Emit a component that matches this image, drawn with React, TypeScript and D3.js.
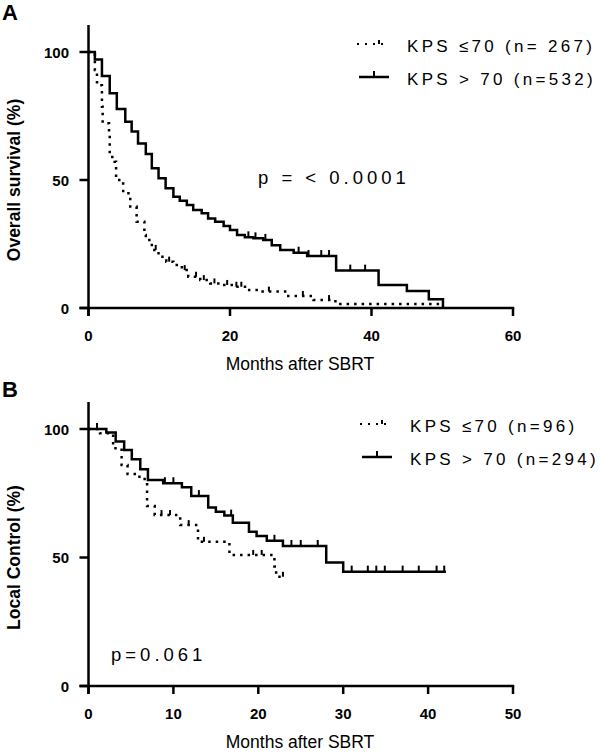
import React, { useEffect, useRef } from "react";
import * as d3 from "d3";

type Step = [number, number]; // [months, percent]

// ---- Panel A: overall survival ----
const osLowSteps: Step[] = [
  [0, 100], [0.9, 93], [1.2, 87], [1.9, 78.6], [2.0, 72.2], [2.9, 68.9], [3.0, 59],
  [3.7, 57.1], [3.9, 50], [4.9, 44.8], [5.9, 39.6], [6.8, 33.7], [7.9, 28.5],
  [8.1, 26.6], [8.95, 22.7], [9.9, 20.0], [11.0, 18.1], [12.0, 16.8], [13.2, 14.8],
  [14.1, 12.2], [15.8, 10.9], [17.2, 9.6], [18.8, 9.0], [20.5, 8.3], [22.4, 7.0],
  [24.2, 6.4], [28.0, 4.7], [31.8, 3.1], [34.9, 1.6],
];
const osLowEnd = 49.7;
const osLowCensor = [9.5, 11.4, 13.6, 15.2, 16.3, 17.8, 19.6, 20.9, 21.6, 25.5, 30.3, 34.0];

const osHighSteps: Step[] = [
  [0, 100], [0.9, 97.1], [1.9, 90.6], [3.0, 83.9], [4.0, 77.7], [5.2, 72.8], [6.1, 68.9],
  [7.0, 64.3], [8.1, 60.2], [8.95, 54.6], [9.9, 50.7], [10.9, 46.8], [12.0, 43.5],
  [12.9, 41.9], [13.9, 40.2], [14.8, 38.3], [16.0, 37.0], [16.9, 35.0], [17.9, 33.7],
  [19.1, 32.0], [20.0, 30.5], [21.0, 28.5], [22.1, 27.6], [23.3, 27.2], [24.7, 26.6],
  [25.9, 24.5], [27.1, 22.7], [29.0, 21.6], [30.9, 20.3], [35.0, 14.6], [41.0, 9.0],
  [45.0, 6.6], [48.1, 3.4], [50.1, 0],
];
const osHighEnd = 50.1;
const osHighCensor = [22.6, 23.6, 25.0, 29.7, 31.1, 32.9, 34.0, 37.0, 39.1];

// ---- Panel B: local control ----
const lcLowSteps: Step[] = [
  [0, 100], [1.35, 98.3], [2.9, 92.5], [3.9, 86], [4.6, 82.5], [6.0, 80.5], [6.9, 70],
  [7.8, 66.5], [10.8, 62.6], [12.9, 56.1], [16.6, 51], [21.9, 46.5], [22.1, 42.5],
];
const lcLowEnd = 23.1;
const lcLowCensor = [1.0, 8.6, 9.6, 11.8, 13.6, 19.4, 20.4, 22.9];

const lcHighSteps: Step[] = [
  [0, 100], [2.1, 98.6], [3.2, 95.1], [4.2, 91.8], [5.1, 88.2], [6.1, 84.3], [7.0, 80.2],
  [8.8, 78.9], [11.0, 77.3], [12.1, 73.9], [14.1, 69.5], [15.0, 67.8], [16.0, 66.3],
  [17.0, 63.5], [18.9, 60.0], [19.8, 58.4], [21.0, 56.5], [22.9, 54.5], [28.0, 48.1],
  [30.0, 44.5],
];
const lcHighEnd = 42.1;
const lcHighCensor = [1.0, 9.0, 10.0, 13.0, 16.8, 21.9, 23.9, 25.0, 27.0, 31.0, 32.9, 33.9, 34.9, 37.0, 38.9, 41.0, 41.9];

const yTicks = [0, 50, 100];
const xTicksA = [0, 20, 40, 60];
const xTicksB = [0, 10, 20, 30, 40, 50];
const legendA = ["KPS \u226470 (n= 267)", "KPS > 70 (n=532)"];
const legendB = ["KPS \u226470 (n=96)", "KPS > 70 (n=294)"];

const FONT = "'Liberation Sans', Arial, Helvetica, sans-serif";

interface PanelCfg {
  letter: string;
  yTitle: string;
  yTitleSize: number;
  xMax: number;
  xTicks: number[];
  top: number; // y-axis top
  y100: number;
  y0: number;
  low: Step[];
  lowEnd: number;
  lowCensor: number[];
  high: Step[];
  highEnd: number;
  highCensor: number[];
  legend: string[];
  legendX: number;
  legendY: number;
  pText: string;
  pX: number;
  pY: number;
  pSpacing: number;
}

const valueAt = (steps: Step[], t: number) => {
  let v = steps[0][1];
  for (const [st, sv] of steps) if (st <= t) v = sv;
  return v;
};

function drawPanel(root: d3.Selection<SVGSVGElement, unknown, null, undefined>, c: PanelCfg) {
  const x = d3.scaleLinear().domain([0, c.xMax]).range([88.5, 513]);
  const y = d3.scaleLinear().domain([0, 100]).range([c.y0, c.y100]);
  const g = root.append("g").attr("font-family", FONT);

  // panel letter
  g.append("text").attr("x", 2).attr("y", c.top - 5).attr("font-size", 22)
    .attr("font-weight", "bold").text(c.letter);

  // axes
  g.append("line").attr("x1", x(0)).attr("x2", x(0)).attr("y1", c.top).attr("y2", y(0) + 8)
    .attr("stroke", "#000").attr("stroke-width", 2.5);
  g.append("line").attr("x1", x(0) - 9).attr("x2", x(c.xMax) + 1.2).attr("y1", y(0)).attr("y2", y(0))
    .attr("stroke", "#000").attr("stroke-width", 2.5);

  g.selectAll(".yt").data(yTicks).join("line")
    .attr("x1", x(0) - 9).attr("x2", x(0)).attr("y1", (d) => y(d)).attr("y2", (d) => y(d))
    .attr("stroke", "#000").attr("stroke-width", 2.5);
  g.selectAll(".yl").data(yTicks).join("text")
    .attr("x", 69).attr("y", (d) => y(d) + 5.5).attr("text-anchor", "end")
    .attr("font-size", 15).attr("font-weight", "bold").text((d) => d);

  g.selectAll(".xt").data(c.xTicks).join("line")
    .attr("x1", (d) => x(d)).attr("x2", (d) => x(d)).attr("y1", y(0)).attr("y2", y(0) + 8)
    .attr("stroke", "#000").attr("stroke-width", 2.5);
  g.selectAll(".xl").data(c.xTicks).join("text")
    .attr("x", (d) => x(d)).attr("y", y(0) + 33).attr("text-anchor", "middle")
    .attr("font-size", 15).attr("font-weight", "bold").text((d) => d);

  g.append("text").attr("x", 300).attr("y", y(0) + 62).attr("text-anchor", "middle")
    .attr("font-size", 17.5).text("Months after SBRT");

  g.append("text")
    .attr("transform", `translate(20,${(y(0) + y(100)) / 2}) rotate(-90)`)
    .attr("text-anchor", "middle").attr("font-size", c.yTitleSize).attr("font-weight", "bold")
    .text(c.yTitle);

  // curves
  const line = d3.line<Step>().curve(d3.curveStepAfter).x((d) => x(d[0])).y((d) => y(d[1]));
  const withEnd = (s: Step[], end: number): Step[] => [...s, [end, s[s.length - 1][1]]];

  g.append("path").datum(withEnd(c.low, c.lowEnd)).attr("d", line)
    .attr("fill", "none").attr("stroke", "#000").attr("stroke-width", 2.5)
    .attr("stroke-dasharray", "2.5,5");
  g.append("path").datum(withEnd(c.high, c.highEnd)).attr("d", line)
    .attr("fill", "none").attr("stroke", "#000").attr("stroke-width", 2.5);

  g.selectAll(".cl").data(c.lowCensor).join("line")
    .attr("x1", (d) => x(d)).attr("x2", (d) => x(d))
    .attr("y1", (d) => y(valueAt(c.low, d))).attr("y2", (d) => y(valueAt(c.low, d)) - 5)
    .attr("stroke", "#000").attr("stroke-width", 2);
  g.selectAll(".ch").data(c.highCensor).join("line")
    .attr("x1", (d) => x(d)).attr("x2", (d) => x(d))
    .attr("y1", (d) => y(valueAt(c.high, d))).attr("y2", (d) => y(valueAt(c.high, d)) - 6)
    .attr("stroke", "#000").attr("stroke-width", 2);

  // legend
  const lx = c.legendX, ly = c.legendY;
  g.append("line").attr("x1", lx - 50).attr("x2", lx - 18).attr("y1", ly - 8).attr("y2", ly - 8)
    .attr("stroke", "#000").attr("stroke-width", 2).attr("stroke-dasharray", "2,6");
  g.append("line").attr("x1", lx - 28).attr("x2", lx - 28).attr("y1", ly - 8).attr("y2", ly - 12)
    .attr("stroke", "#000").attr("stroke-width", 2);
  g.append("line").attr("x1", lx - 48).attr("x2", lx - 18).attr("y1", ly + 25).attr("y2", ly + 25)
    .attr("stroke", "#000").attr("stroke-width", 2.5);
  g.append("line").attr("x1", lx - 33).attr("x2", lx - 33).attr("y1", ly + 25).attr("y2", ly + 19)
    .attr("stroke", "#000").attr("stroke-width", 2);
  g.selectAll(".lg").data(c.legend).join("text")
    .attr("x", lx).attr("y", (_, i) => ly + i * 33).attr("font-size", 17)
    .attr("letter-spacing", 3.3).text((d) => d);

  g.append("text").attr("x", c.pX).attr("y", c.pY).attr("font-size", 18.5)
    .attr("letter-spacing", c.pSpacing).text(c.pText);
}

export default function App() {
  const ref = useRef<SVGSVGElement>(null);

  useEffect(() => {
    const svg = d3.select(ref.current!);
    svg.selectAll("*").remove();
    drawPanel(svg, {
      letter: "A", yTitle: "Overall survival (%)", yTitleSize: 17.5, xMax: 60, xTicks: xTicksA,
      top: 25, y100: 52, y0: 308,
      low: osLowSteps, lowEnd: osLowEnd, lowCensor: osLowCensor,
      high: osHighSteps, highEnd: osHighEnd, highCensor: osHighCensor,
      legend: legendA, legendX: 407, legendY: 52,
      pText: "p = < 0.0001", pX: 258, pY: 184, pSpacing: 4,
    });
    drawPanel(svg, {
      letter: "B", yTitle: "Local Control (%)", yTitleSize: 17.5, xMax: 50, xTicks: xTicksB,
      top: 402, y100: 429, y0: 686,
      low: lcLowSteps, lowEnd: lcLowEnd, lowCensor: lcLowCensor,
      high: lcHighSteps, highEnd: lcHighEnd, highCensor: lcHighCensor,
      legend: legendB, legendX: 410, legendY: 432,
      pText: "p=0.061", pX: 111, pY: 661, pSpacing: 4,
    });
  }, []);

  return (
    <svg
      ref={ref}
      width={600}
      height={754}
      style={{ position: "absolute", left: 0, top: 0, background: "#fff" }}
    />
  );
}
